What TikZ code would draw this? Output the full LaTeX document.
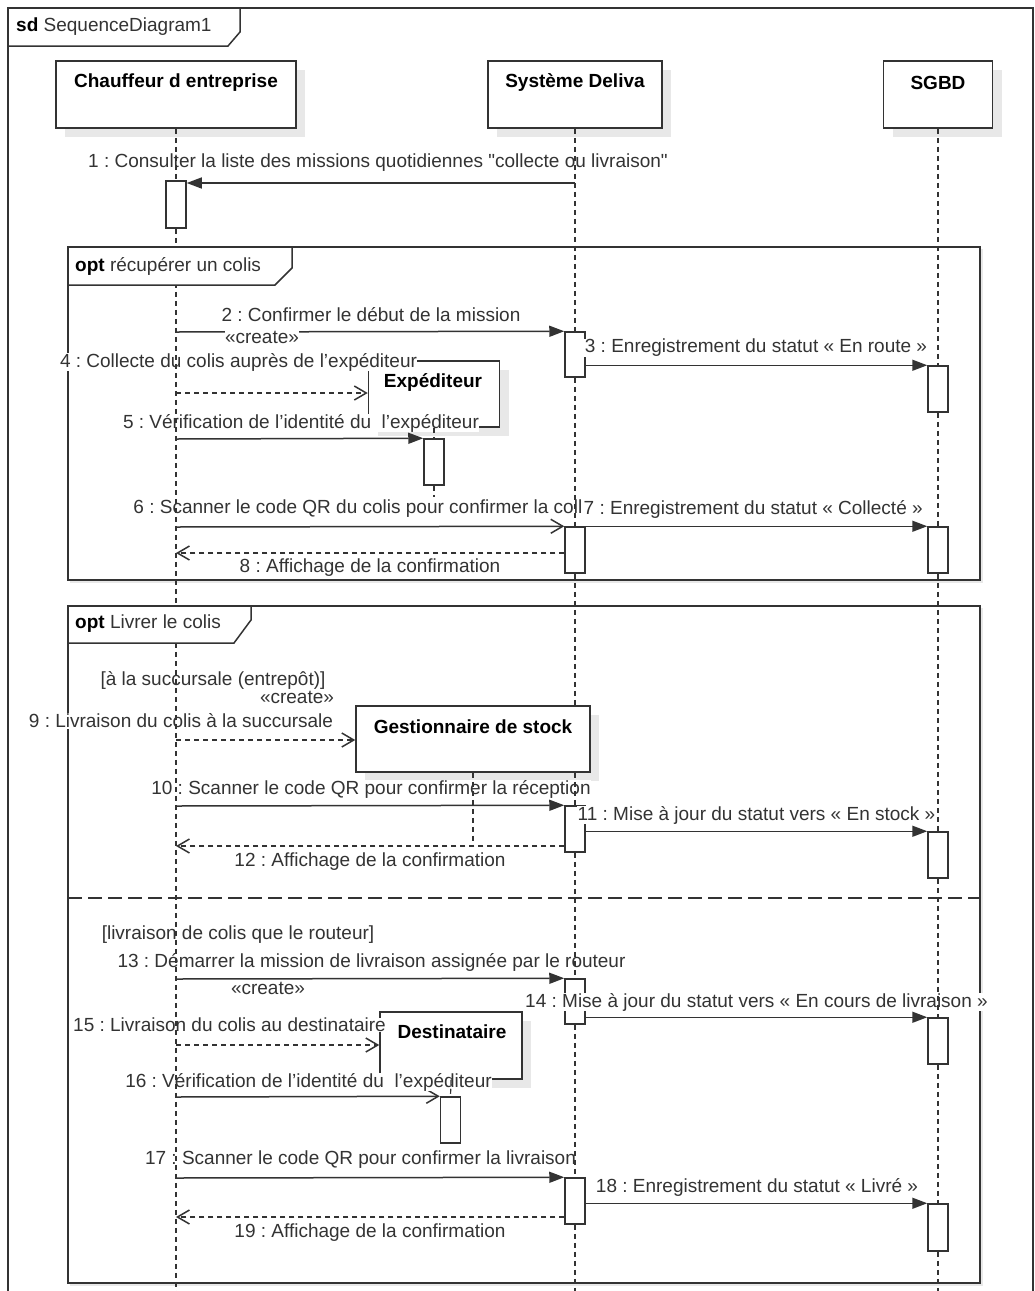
\documentclass[tikz,border=0pt]{standalone}
\usepackage{fontspec}
\newfontfamily\lsans{Liberation Sans}
\usetikzlibrary{arrows.meta}
\definecolor{edge}{HTML}{333333}
\definecolor{txt}{HTML}{333333}
\definecolor{shade}{HTML}{E8E8E8}
\frenchspacing
\begin{document}
\begin{tikzpicture}[x=1pt,y=-1pt,
  base/.style={font=\lsans\fontsize{19}{22}\selectfont, text=txt},
  lbl/.style={base, fill=white, inner sep=0.5pt},
  pname/.style={base, text=black, font=\lsans\bfseries\fontsize{19}{22}\selectfont, inner sep=0.5pt},
  frame/.style={draw=edge, line width=1.5pt},
  sepline/.style={draw=edge, line width=1.5pt, dash pattern=on 14pt off 6pt},
  pbox/.style={draw=edge, line width=1.5pt, fill=white, inner sep=0pt,
    preaction={fill=shade, transform canvas={xshift=9pt, yshift=-9pt}}},
  act/.style={draw=edge, line width=1.5pt, fill=white, minimum width=20pt, inner sep=0pt},
  life/.style={draw=edge, line width=1.2pt, dash pattern=on 5pt off 4pt},
  sync/.style={draw=edge, line width=1.5pt, -{Triangle[length=15pt,width=11pt]}},
  async/.style={draw=edge, line width=1.5pt, -{Straight Barb[length=12pt,width=14pt,line width=1.5pt]}},
  ret/.style={async, dash pattern=on 5pt off 4pt}
]
\useasboundingbox (0,0) rectangle (1035,1291);
\fill[white] (0,0) rectangle (1035,1291);

% interaction frame and combined fragments
\draw[frame] (8,1291) -- (8,8) -- (1033,8) -- (1033,1291);
\draw[draw=shade, line width=2pt] (981.5,249) -- (981.5,581.5) -- (70,581.5);
\draw[frame] (68,247) rectangle (980,580);
\draw[draw=shade, line width=2pt] (981.5,608) -- (981.5,1284.5) -- (70,1284.5);
\draw[frame] (68,606) rectangle (980,1283);
\draw[sepline] (68,898) -- (980,898);

% participants
\node[pbox, minimum width=240pt, minimum height=67pt] (C) at (176,94.5) {};
\node[pbox, minimum width=174pt, minimum height=67pt] (S) at (575,94.5) {};
\node[pbox, minimum width=109pt, minimum height=67pt] (D) at (938,94.5) {};
\node[pbox, minimum width=131pt, minimum height=66pt] (E) at (434,394) {};
\node[pbox, minimum width=234pt, minimum height=66pt] (G) at (473,739) {};
\node[pbox, minimum width=142pt, minimum height=67pt] (T) at (451,1045.5) {};

\node[pname] (Cn) at (176,83) {Chauffeur d entreprise};
\node[pname] (Sn) at (575,83) {Système Deliva};
\node[pname] (Dn) at (938,83) {SGBD};
\node[pname] (Gn) at (473,727) {Gestionnaire de stock};

% activation bars
\node[act, minimum height=47pt] (aC1) at (176,204.5) {};
\node[act, minimum height=45pt] (aS1) at (575,354.5) {};
\node[act, minimum height=46pt] (aD1) at (938,389) {};
\node[act, minimum height=46pt] (aE)  at (434,462) {};
\node[act, minimum height=46pt] (aS2) at (575,550) {};
\node[act, minimum height=46pt] (aD2) at (938,550) {};
\node[act, minimum height=46pt] (aS3) at (575,829) {};
\node[act, minimum height=46pt] (aD3) at (938,855) {};
\node[act, minimum height=45pt] (aS4) at (575,1001.5) {};
\node[act, minimum height=46pt] (aD4) at (938,1041) {};
\node[act, minimum height=46pt] (aT)  at (450.5,1120) {};
\node[act, minimum height=46pt] (aS5) at (575,1201) {};
\node[act, minimum height=47pt] (aD5) at (938,1227.5) {};

% message end points on the lifelines
\coordinate (m1)  at (575,183);
\coordinate (c2)  at (176,332);
\coordinate (c4)  at (176,393);
\coordinate (c5)  at (176,439);
\coordinate (c6)  at (176,527);
\coordinate (c8)  at (176,553);
\coordinate (c9)  at (176,740);
\coordinate (c10) at (176,806);
\coordinate (c12) at (176,846);
\coordinate (c13) at (176,979);
\coordinate (c15) at (176,1045);
\coordinate (c16) at (176,1097);
\coordinate (c17) at (176,1178);
\coordinate (c19) at (176,1217);

% messages
\draw[sync]  (m1) -- (m1 -| aC1.east);
\draw[sync]  (c2) -- (aS1.north west);
\draw[sync]  (aD1.north west -| aS1.east) -- (aD1.north west);
\draw[ret]   (c4) -- (c4 -| E.west);
\draw[sync]  (c5) -- (aE.north west);
\draw[async] (c6) -- (aS2.north west);
\draw[sync]  (aS2.north east) -- (aD2.north west);
\draw[ret]   (c8 -| aS2.west) -- (c8);
\draw[ret]   (c9) -- (c9 -| G.west);
\draw[sync]  (c10) -- (aS3.north west);
\draw[sync]  (aD3.north west -| aS3.east) -- (aD3.north west);
\draw[ret]   (c12 -| aS3.west) -- (c12);
\draw[sync]  (c13) -- (aS4.north west);
\draw[sync]  (aD4.north west -| aS4.east) -- (aD4.north west);
\draw[ret]   (c15) -- (c15 -| T.west);
\draw[async] (c16) -- (aT.north west);
\draw[sync]  (c17) -- (aS5.north west);
\draw[sync]  (aD5.north west -| aS5.east) -- (aD5.north west);
\draw[ret]   (c19 -| aS5.west) -- (c19);

% message labels
\node[lbl] (t1) at (378,163) {1 : Consulter la liste des missions quotidiennes "collecte ou livraison"};
\node[lbl] (t2) at (371,315) {2 : Confirmer le début de la mission};
\node[lbl] (k2) at (262,337) {«create»};
\node[lbl] (t3) at (756,348) {3 : Enregistrement du statut « En route »};
\node[lbl] (t4) at (238.5,362) {4 : Collecte du colis auprès de l’expéditeur};
\node[pname] (En) at (433,382) {Expéditeur};
\node[lbl] (t5) at (301,423) {5 : Vérification de l’identité du\ \ l’expéditeur};
\node[lbl, anchor=east] (t6) at (583,509) {6 : Scanner le code QR du colis pour confirmer la coll};
\node[lbl, anchor=west] (t7) at (583,509) {7 : Enregistrement du statut « Collecté »};
\node[lbl] (t8) at (370,568) {8 : Affichage de la confirmation};
\node[lbl] (g1) at (213,680) {[à la succursale (entrepôt)]};
\node[lbl] (k9) at (297,697) {«create»};
\node[lbl] (t9) at (181,721) {9 : Livraison du colis à la succursale};
\node[lbl] (t10) at (371,789) {10 : Scanner le code QR pour confirmer la réception};
\node[lbl] (t11) at (756.5,815) {11 : Mise à jour du statut vers « En stock »};
\node[lbl] (t12) at (370,862) {12 : Affichage de la confirmation};
\node[lbl] (g2) at (238,935) {[livraison de colis que le routeur]};
\node[lbl] (t13) at (371.5,962) {13 : Démarrer la mission de livraison assignée par le routeur};
\node[lbl] (k13) at (268,988) {«create»};
\node[lbl] (t14) at (756.5,1002) {14 : Mise à jour du statut vers « En cours de livraison »};
\node[lbl] (t15) at (229.5,1025) {15 : Livraison du colis au destinataire};
\node[pname] (Tn) at (452,1032) {Destinataire};
\node[lbl] (t16) at (308.5,1082) {16 : Vérification de l’identité du\ \ l’expéditeur};
\node[lbl] (t17) at (360.5,1160) {17 : Scanner le code QR pour confirmer la livraison};
\node[lbl] (t18) at (757,1187) {18 : Enregistrement du statut « Livré »};
\node[lbl] (t19) at (370,1233) {19 : Affichage de la confirmation};

% lifelines
\coordinate (bot) at (0,1291);
\coordinate (eEnd) at (434,497);
\coordinate (gEnd) at (473,846);
\draw[life] (C.south) -- (aC1.north);
\draw[life] (aC1.south) -- (aC1.south |- bot);
\draw[life] (S.south) -- (aS1.north);
\draw[life] (aS1.south) -- (aS2.north);
\draw[life] (aS2.south) -- (aS2.south |- G.north);
\draw[life] (aS2.south |- G.south) -- (aS3.north);
\draw[life] (aS3.south) -- (aS4.north);
\draw[life] (aS4.south) -- (aS5.north);
\draw[life] (aS5.south) -- (aS5.south |- bot);
\draw[life] (D.south) -- (aD1.north);
\draw[life] (aD1.south) -- (aD2.north);
\draw[life] (aD2.south) -- (aD3.north);
\draw[life] (aD3.south) -- (aD4.north);
\draw[life] (aD4.south) -- (aD5.north);
\draw[life] (aD5.south) -- (aD5.south |- bot);
\draw[life] (E.south) -- (aE.north);
\draw[life] (aE.south) -- (eEnd);
\draw[life] (G.south) -- (gEnd);
\draw[life] (T.south) -- (aT.north);

% frame headers
\draw[frame, fill=white] (8,8) -- (240,8) -- (240,32) -- (228,46) -- (8,46) -- cycle;
\node[base, anchor=west, inner sep=0pt] (sd) at (16,27) {\textcolor{black}{\bfseries sd} SequenceDiagram1};
\draw[frame, fill=white] (68,247) -- (292,247) -- (292,268) -- (275,285) -- (68,285) -- cycle;
\node[base, anchor=west, inner sep=0pt] (o1) at (75,266) {\textcolor{black}{\bfseries opt} récupérer un colis};
\draw[frame, fill=white] (68,606) -- (251,606) -- (251,620) -- (234,643) -- (68,643) -- cycle;
\node[base, anchor=west, inner sep=0pt] (o2) at (75,624) {\textcolor{black}{\bfseries opt} Livrer le colis};
\end{tikzpicture}
\end{document}
